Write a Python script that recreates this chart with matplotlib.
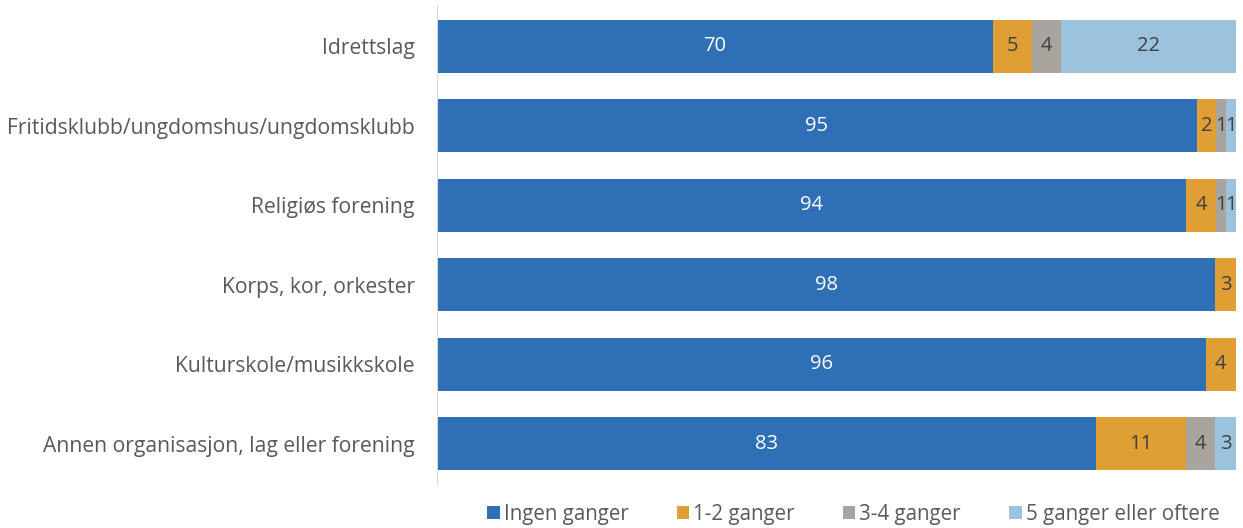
import matplotlib
matplotlib.use("Agg")
import matplotlib.pyplot as plt
import numpy as np

plt.rcParams["font.family"] = ["Open Sans", "DejaVu Sans"]

categories = [
    "Idrettslag",
    "Fritidsklubb/ungdomshus/ungdomsklubb",
    "Religiøs forening",
    "Korps, kor, orkester",
    "Kulturskole/musikkskole",
    "Annen organisasjon, lag eller forening",
]
series_names = ["Ingen ganger", "1-2 ganger", "3-4 ganger", "5 ganger eller oftere"]
# shares in percent (labels show them rounded)
ingen = [69.6, 95.1, 93.7, 97.6, 96.2, 82.6]
en_to = [4.9, 2.4, 3.8, 2.6, 3.8, 11.2]
tre_fire = [3.6, 1.25, 1.25, 0, 0, 3.7]
fem_pluss = [21.9, 1.25, 1.25, 0, 0, 2.6]

colors = ["#2e6fb5", "#e09f35", "#aaa49f", "#9bc3de"]
text_colors = ["white", "#404040", "#404040", "#404040"]

data = np.array([ingen, en_to, tre_fire, fem_pluss], dtype=float)
# 100 % stacked: every bar fills the full width
frac = data / data.sum(axis=0)

fig = plt.figure(figsize=(12.43, 5.28), dpi=100)
ax = fig.add_axes([0.3516, 0.0814, 0.6428, 0.9091])

y = np.arange(len(categories))
left = np.zeros(len(categories))
for i, name in enumerate(series_names):
    ax.barh(y, frac[i], left=left, height=0.665, color=colors[i], label=name)
    for j in range(len(categories)):
        if data[i, j] > 0:
            ax.text(left[j] + frac[i, j] / 2, y[j], f"{data[i, j]:.0f}",
                    ha="center", va="center", fontsize=14.5, color=text_colors[i])
    left += frac[i]

ax.set_xlim(0, 1)
ax.set_ylim(5.52, -0.52)
ax.set_yticks(y)
ax.set_yticklabels(categories, fontsize=15.2, color="#595959")
ax.tick_params(axis="y", length=0, pad=16)
ax.set_xticks([])
for side in ["top", "right", "bottom"]:
    ax.spines[side].set_visible(False)
ax.spines["left"].set_color("#d9d9d9")

fig.legend(loc="lower center", bbox_to_anchor=(0.6865, -0.029), ncol=4, frameon=False,
           fontsize=14.8, labelcolor="#595959", handlelength=0.6, handleheight=0.6,
           handletextpad=0.2, columnspacing=2.35)

fig.savefig("out.png", dpi=100)
